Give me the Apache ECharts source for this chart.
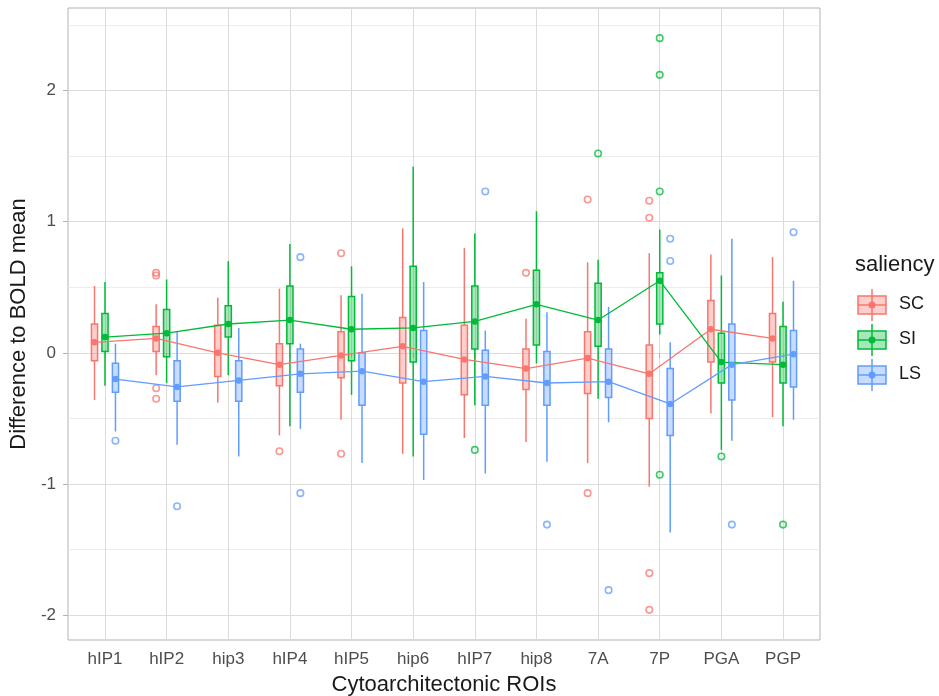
<!DOCTYPE html>
<html>
<head>
<meta charset="UTF-8">
<title>Difference to BOLD mean by ROI</title>
<script src="https://cdn.jsdelivr.net/npm/echarts@6/dist/echarts.min.js"></script>
<style>
    body { margin: 0; background: #fff; font-family: "Liberation Sans", Arial, sans-serif; }
    #chart { width: 939px; height: 696px; }
</style>
</head>
<body>
<div id="chart"></div>
<script>
    // ROI categories on the x axis
    const rois = ['hIP1', 'hIP2', 'hip3', 'hIP4', 'hIP5', 'hip6', 'hIP7', 'hip8', '7A', '7P', 'PGA', 'PGP'];
    const groups = ['SC', 'SI', 'LS'];

    // box stats per ROI: [lower whisker, Q1, median, Q3, upper whisker]
    const scBox = [
        [-0.36, -0.06, 0.08, 0.22, 0.51], [-0.17, 0.01, 0.11, 0.20, 0.37], [-0.38, -0.18, 0.00, 0.21, 0.42],
        [-0.63, -0.25, -0.09, 0.07, 0.49], [-0.51, -0.19, -0.02, 0.16, 0.44], [-0.77, -0.23, 0.05, 0.27, 0.95],
        [-0.65, -0.32, -0.05, 0.21, 0.80], [-0.68, -0.28, -0.12, 0.03, 0.26], [-0.84, -0.31, -0.04, 0.16, 0.69],
        [-1.02, -0.50, -0.16, 0.06, 0.76], [-0.46, -0.07, 0.18, 0.40, 0.75], [-0.49, -0.07, 0.11, 0.30, 0.73]
    ];
    const siBox = [
        [-0.25, 0.01, 0.12, 0.30, 0.54], [-0.23, -0.03, 0.15, 0.33, 0.56], [-0.17, 0.12, 0.22, 0.36, 0.70],
        [-0.56, 0.07, 0.25, 0.51, 0.83], [-0.32, -0.06, 0.18, 0.43, 0.66], [-0.79, -0.07, 0.19, 0.66, 1.42],
        [-0.40, 0.03, 0.24, 0.51, 0.91], [-0.08, 0.06, 0.37, 0.63, 1.08], [-0.35, 0.05, 0.25, 0.53, 0.71],
        [0.14, 0.22, 0.55, 0.61, 0.94], [-0.74, -0.23, -0.07, 0.15, 0.59], [-0.56, -0.23, -0.09, 0.20, 0.39]
    ];
    const lsBox = [
        [-0.60, -0.30, -0.20, -0.08, 0.07], [-0.70, -0.37, -0.26, -0.06, 0.16], [-0.79, -0.37, -0.21, -0.06, 0.19],
        [-0.58, -0.30, -0.16, 0.03, 0.07], [-0.84, -0.40, -0.14, 0.00, 0.45], [-0.97, -0.62, -0.22, 0.17, 0.54],
        [-0.92, -0.40, -0.18, 0.02, 0.17], [-0.83, -0.40, -0.23, 0.01, 0.31], [-0.53, -0.34, -0.22, 0.03, 0.35],
        [-1.37, -0.63, -0.39, -0.12, 0.08], [-0.67, -0.36, -0.09, 0.22, 0.87], [-0.51, -0.26, -0.01, 0.17, 0.55]
    ];

    // group means (points joined by lines)
    const scMean = [0.08, 0.11, 0.00, -0.09, -0.02, 0.05, -0.05, -0.12, -0.04, -0.16, 0.18, 0.11];
    const siMean = [0.12, 0.15, 0.22, 0.25, 0.18, 0.19, 0.24, 0.37, 0.25, 0.55, -0.07, -0.09];
    const lsMean = [-0.20, -0.26, -0.21, -0.16, -0.14, -0.22, -0.18, -0.23, -0.22, -0.39, -0.09, -0.01];

    // outliers: [roi index, value]
    const scOut = [[1, 0.61], [1, 0.59], [1, -0.27], [1, -0.35], [3, -0.75], [4, 0.76], [4, -0.77],
        [7, 0.61], [8, 1.17], [8, -1.07], [9, 1.16], [9, 1.03], [9, -1.68], [9, -1.96]];
    const siOut = [[6, -0.74], [8, 1.52], [9, 2.40], [9, 2.12], [9, 1.23], [9, -0.93], [10, -0.79], [11, -1.31]];
    const lsOut = [[0, -0.67], [1, -1.17], [3, 0.73], [3, -1.07], [6, 1.23], [7, -1.31], [8, -1.81],
        [9, 0.87], [9, 0.70], [10, -1.31], [11, 0.92]];

    const yTicks = [-2, -1, 0, 1, 2];
    const yMinor = [-1.5, -0.5, 0.5, 1.5, 2.5];
    const xTicks = rois.map((r, i) => i + 1);

    const colors = ['#F8766D', '#00BA38', '#619CFF'];
    const fills = ['rgba(248,118,109,0.35)', 'rgba(0,186,56,0.35)', 'rgba(97,156,255,0.35)'];
    const dodge = [-0.17, 0, 0.17];
    const boxW = 0.1;

    const boxes = [scBox, siBox, lsBox];
    const means = [scMean, siMean, lsMean];
    const outs = [scOut, siOut, lsOut];

    const chart = echarts.init(document.getElementById('chart'));

    function boxRender(gi) {
        return function (params, api) {
            const x = api.value(0);
            const lo = api.coord([x, api.value(1)]);
            const q1 = api.coord([x, api.value(2)]);
            const md = api.coord([x, api.value(3)]);
            const q3 = api.coord([x, api.value(4)]);
            const hi = api.coord([x, api.value(5)]);
            const half = api.size([boxW, 0])[0] / 2;
            const c = colors[gi];
            return {
                type: 'group',
                children: [
                    { type: 'line', shape: { x1: lo[0], y1: lo[1], x2: q1[0], y2: q1[1] }, style: { stroke: c, lineWidth: 1.5 } },
                    { type: 'line', shape: { x1: q3[0], y1: q3[1], x2: hi[0], y2: hi[1] }, style: { stroke: c, lineWidth: 1.5 } },
                    { type: 'rect', shape: { x: q3[0] - half, y: q3[1], width: half * 2, height: q1[1] - q3[1] },
                      style: { fill: fills[gi], stroke: c, lineWidth: 1.5 } },
                    { type: 'line', shape: { x1: md[0] - half, y1: md[1], x2: md[0] + half, y2: md[1] }, style: { stroke: c, lineWidth: 2 } }
                ]
            };
        };
    }

    const series = [];
    // grid lines drawn on the axes' scales, kept under the marks
    series.push({
        type: 'line', data: [], silent: true, z: 0,
        markLine: {
            z: 0, silent: true, symbol: ['none', 'none'], label: { show: false }, animation: false,
            data: [].concat(
                yMinor.map(v => ({ yAxis: v, lineStyle: { color: '#ececec', width: 1, type: 'solid' } })),
                yTicks.map(v => ({ yAxis: v, lineStyle: { color: '#dcdcdc', width: 1, type: 'solid' } })),
                xTicks.map(v => ({ xAxis: v, lineStyle: { color: '#dcdcdc', width: 1, type: 'solid' } }))
            )
        }
    });

    groups.forEach((g, gi) => {
        series.push({
            name: g, type: 'custom', z: 2,
            renderItem: boxRender(gi),
            encode: { x: 0, y: [1, 2, 3, 4, 5] },
            data: boxes[gi].map((b, i) => [i + 1 + dodge[gi]].concat(b))
        });
    });
    groups.forEach((g, gi) => {
        series.push({
            name: g, type: 'scatter', z: 3,
            symbol: 'circle', symbolSize: 6.5,
            itemStyle: { color: 'rgba(255,255,255,0)', borderColor: colors[gi], borderWidth: 1.6, opacity: 0.75 },
            data: outs[gi].map(o => [o[0] + 1 + dodge[gi], o[1]])
        });
    });
    groups.forEach((g, gi) => {
        series.push({
            name: g, type: 'line', z: 4,
            symbol: 'circle', symbolSize: 6.5, showSymbol: true,
            lineStyle: { color: colors[gi], width: 1.3 },
            itemStyle: { color: colors[gi] },
            data: means[gi].map((m, i) => [i + 1 + dodge[gi], m])
        });
    });

    // legend drawn as ggplot-style keys
    const legendItems = [{ type: 'text', left: 855, top: 254,
        style: { text: 'saliency', fontSize: 22, fill: '#1a1a1a', fontFamily: 'Liberation Sans' } }];
    groups.forEach((g, gi) => {
        const cy = 305 + gi * 35;
        const cx = 872;
        legendItems.push(
            { type: 'line', shape: { x1: cx, y1: cy - 16, x2: cx, y2: cy + 16 }, style: { stroke: colors[gi], lineWidth: 1.5 } },
            { type: 'rect', shape: { x: cx - 14, y: cy - 9, width: 28, height: 18 }, style: { fill: fills[gi], stroke: colors[gi], lineWidth: 1.5 } },
            { type: 'line', shape: { x1: cx - 14, y1: cy, x2: cx + 14, y2: cy }, style: { stroke: colors[gi], lineWidth: 1.5 } },
            { type: 'circle', shape: { cx: cx, cy: cy, r: 3.5 }, style: { fill: colors[gi] } },
            { type: 'text', left: 899, top: cy - 10, style: { text: g, fontSize: 18, fill: '#1a1a1a', fontFamily: 'Liberation Sans' } }
        );
    });

    chart.setOption({
        animation: false,
        textStyle: { fontFamily: 'Liberation Sans' },
        grid: { left: 68, right: 119, top: 8, bottom: 56, show: true, borderColor: '#b3b3b3', borderWidth: 1,
                containLabel: false, outerBoundsMode: 'none' },
        xAxis: {
            type: 'value', min: 0.4, max: 12.6,
            name: 'Cytoarchitectonic ROIs', nameLocation: 'middle', nameGap: 34,
            nameTextStyle: { fontSize: 22, color: '#1a1a1a' },
            axisLine: { show: false },
            axisTick: { show: true, customValues: xTicks, length: 5, lineStyle: { color: '#b3b3b3' } },
            axisLabel: { customValues: xTicks, formatter: v => rois[Math.round(v) - 1], fontSize: 17, color: '#4d4d4d', margin: 11 },
            splitLine: { show: false }
        },
        yAxis: {
            type: 'value', min: -2.19, max: 2.63,
            name: 'Difference to BOLD mean', nameLocation: 'middle', nameGap: 31, nameRotate: 90,
            nameTextStyle: { fontSize: 22, color: '#1a1a1a' },
            axisLine: { show: false },
            axisTick: { show: true, customValues: yTicks, length: 5, lineStyle: { color: '#b3b3b3' } },
            axisLabel: { customValues: yTicks, fontSize: 17, color: '#4d4d4d', margin: 12 },
            splitLine: { show: false }
        },
        graphic: legendItems,
        series: series
    });
</script>
</body>
</html>
